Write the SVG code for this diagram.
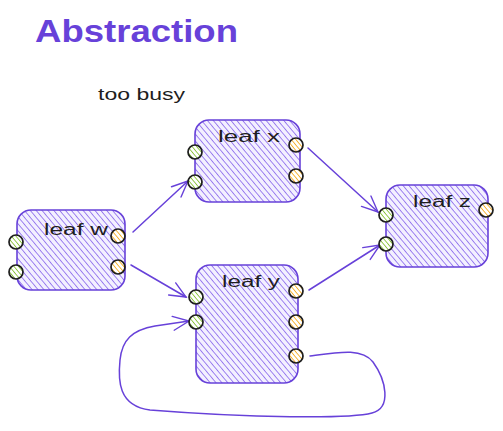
<svg xmlns="http://www.w3.org/2000/svg" width="503" height="431" viewBox="0 0 503 431">
<defs>
<pattern id="hv" patternUnits="userSpaceOnUse" width="4.5" height="4.5" patternTransform="rotate(-40)">
<rect width="4.5" height="4.5" fill="#f3f0ff"/>
<line x1="0" y1="0" x2="0" y2="4.5" stroke="#7048e8" stroke-width="1.3"/>
</pattern>
<pattern id="hg" patternUnits="userSpaceOnUse" width="3.5" height="3.5" patternTransform="rotate(-40)">
<rect width="3.5" height="3.5" fill="#ffffff"/>
<line x1="0" y1="0" x2="0" y2="3.5" stroke="#74b816" stroke-width="1.5"/>
</pattern>
<pattern id="ho" patternUnits="userSpaceOnUse" width="3.5" height="3.5" patternTransform="rotate(-40)">
<rect width="3.5" height="3.5" fill="#ffffff"/>
<line x1="0" y1="0" x2="0" y2="3.5" stroke="#f59f00" stroke-width="1.5"/>
</pattern>
<marker id="ah" viewBox="0 0 20 20" refX="18" refY="10" markerWidth="20" markerHeight="20" markerUnits="userSpaceOnUse" orient="auto">
<polyline points="2,3 18,10 2,17" fill="none" stroke="#6741d9" stroke-width="1.4" stroke-linecap="round"/>
</marker>
</defs>
<style>
.box{fill:url(#hv);stroke:#6741d9;stroke-width:1.6}
.in{fill:url(#hg);stroke:#1e1e1e;stroke-width:1.7}
.out{fill:url(#ho);stroke:#1e1e1e;stroke-width:1.7}
.lbl{font-family:"Liberation Sans",sans-serif;font-size:16px;fill:#1e1e1e}
.con{fill:none;stroke:#6741d9;stroke-width:1.5;stroke-linecap:round;marker-end:url(#ah)}
</style>
<text x="35" y="42" font-family="Liberation Sans, sans-serif" font-size="32" font-weight="bold" fill="#6741d9" textLength="203" lengthAdjust="spacingAndGlyphs">Abstraction</text>
<text x="98" y="100" class="lbl" textLength="87" lengthAdjust="spacingAndGlyphs">too busy</text>
<g id="connectors">
<path class="con" d="M133,232 L188,181"/>
<path class="con" d="M131,265 L186,297"/>
<path class="con" d="M308,148 L378,212"/>
<path class="con" d="M309,290 L380,245"/>
<path class="con" d="M310,356 C340,352 362,348 373,362 C386,380 392,408 372,413 C350,419 250,418 150,410 C118,406 118,380 120,360 C122,340 132,330 155,326 L189,321"/>
</g>
<g id="leaf-w">
<rect class="box" x="17" y="210" width="108" height="80" rx="14"/>
<text x="44" y="235" class="lbl" textLength="64" lengthAdjust="spacingAndGlyphs">leaf w</text>
<circle class="in" cx="16" cy="242" r="7"/>
<circle class="in" cx="16" cy="272" r="7"/>
<circle class="out" cx="118" cy="236" r="7"/>
<circle class="out" cx="118" cy="267" r="7"/>
</g>
<g id="leaf-x">
<rect class="box" x="195" y="120" width="105" height="82" rx="14"/>
<text x="218" y="142" class="lbl" textLength="62" lengthAdjust="spacingAndGlyphs">leaf x</text>
<circle class="in" cx="195" cy="152" r="7"/>
<circle class="in" cx="195" cy="182" r="7"/>
<circle class="out" cx="296" cy="145" r="7"/>
<circle class="out" cx="296" cy="176" r="7"/>
</g>
<g id="leaf-y">
<rect class="box" x="196" y="265" width="102" height="118" rx="14"/>
<text x="222" y="287" class="lbl" textLength="58" lengthAdjust="spacingAndGlyphs">leaf y</text>
<circle class="in" cx="196" cy="297" r="7"/>
<circle class="in" cx="196" cy="322" r="7"/>
<circle class="out" cx="296" cy="291" r="7"/>
<circle class="out" cx="296" cy="322" r="7"/>
<circle class="out" cx="296" cy="356" r="7"/>
</g>
<g id="leaf-z">
<rect class="box" x="386" y="185" width="102" height="82" rx="14"/>
<text x="413" y="207" class="lbl" textLength="58" lengthAdjust="spacingAndGlyphs">leaf z</text>
<circle class="in" cx="386" cy="215" r="7"/>
<circle class="in" cx="386" cy="244" r="7"/>
<circle class="out" cx="486" cy="210" r="7"/>
</g>
</svg>
